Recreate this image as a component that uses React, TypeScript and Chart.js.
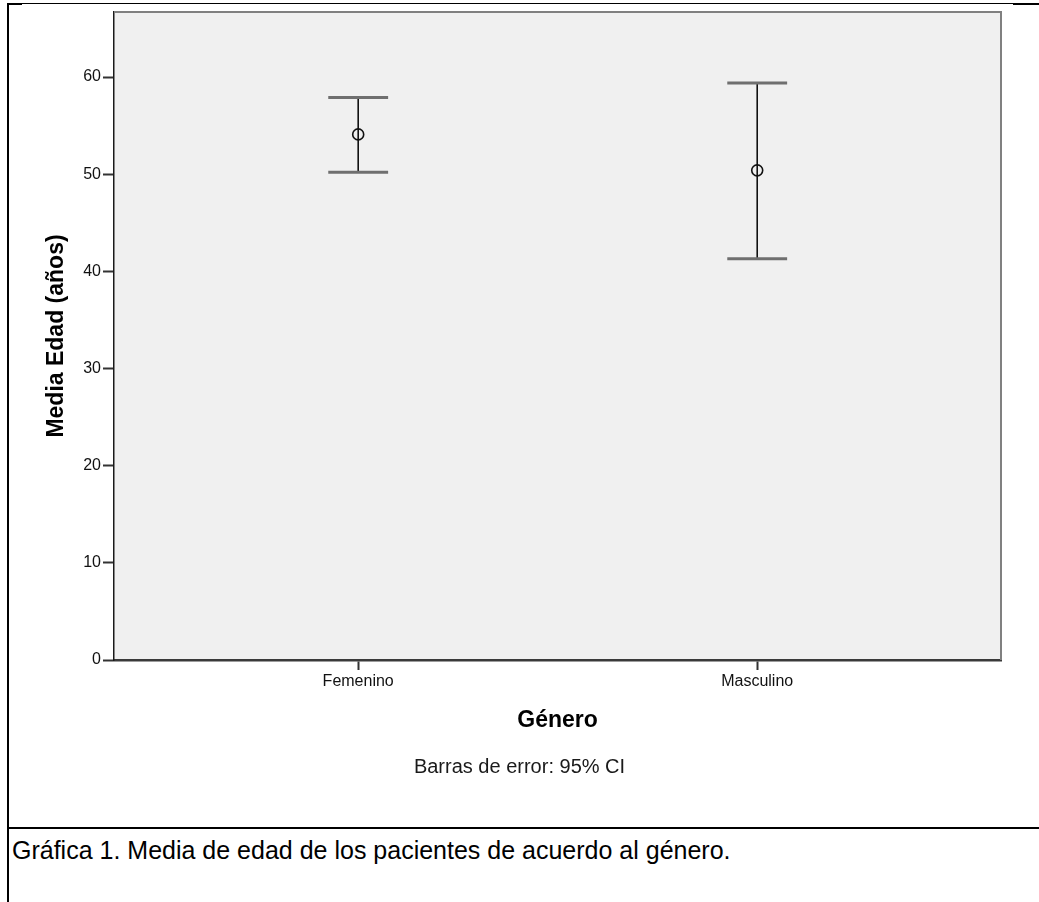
import React, { useEffect, useRef } from "react";
import { Chart, registerables } from "chart.js";

Chart.register(...registerables);

const categories = ["Femenino", "Masculino"];
const categoryPositions = [0, 1];
const means = [54.1, 50.4];
const lowerCI = [50.2, 41.3];
const upperCI = [57.9, 59.4];
const yTicks = [0, 10, 20, 30, 40, 50, 60];

const FONT = "'Liberation Sans', Arial, Helvetica, sans-serif";
const CAP_HALF = 0.075;

const plotFramePlugin = {
  id: "plotFrame",
  beforeDraw(chart: any) {
    const { ctx, chartArea: a } = chart;
    ctx.save();
    ctx.fillStyle = "#f0f0f0";
    ctx.fillRect(a.left, a.top, a.right - a.left, a.bottom - a.top);
    ctx.restore();
  },
  afterDraw(chart: any) {
    const { ctx, chartArea: a } = chart;
    ctx.save();
    ctx.strokeStyle = "#808080";
    ctx.lineWidth = 2;
    ctx.beginPath();
    ctx.moveTo(a.left, a.top);
    ctx.lineTo(a.right, a.top);
    ctx.lineTo(a.right, a.bottom);
    ctx.stroke();
    ctx.restore();
  },
};

const errorBarPlugin = {
  id: "errorBars",
  beforeDatasetsDraw(chart: any) {
    const { ctx } = chart;
    const x = chart.scales.x;
    const y = chart.scales.y;
    ctx.save();
    categoryPositions.forEach((pos, i) => {
      const px = x.getPixelForValue(pos);
      const l = x.getPixelForValue(pos - CAP_HALF);
      const r = x.getPixelForValue(pos + CAP_HALF);
      const top = y.getPixelForValue(upperCI[i]);
      const bot = y.getPixelForValue(lowerCI[i]);
      ctx.strokeStyle = "#111";
      ctx.lineWidth = 1.6;
      ctx.beginPath();
      ctx.moveTo(px, top);
      ctx.lineTo(px, bot);
      ctx.stroke();
      ctx.strokeStyle = "#6f6f6f";
      ctx.lineWidth = 3;
      ctx.beginPath();
      ctx.moveTo(l, top);
      ctx.lineTo(r, top);
      ctx.moveTo(l, bot);
      ctx.lineTo(r, bot);
      ctx.stroke();
    });
    ctx.restore();
  },
};

export default function App() {
  const canvasRef = useRef<HTMLCanvasElement | null>(null);

  useEffect(() => {
    if (!canvasRef.current) return;
    const chart = new Chart(canvasRef.current, {
      type: "scatter",
      data: {
        datasets: [
          {
            data: categoryPositions.map((p, i) => ({ x: p, y: means[i] })),
            pointStyle: "circle",
            pointRadius: 5.5,
            pointHoverRadius: 5.5,
            pointBorderWidth: 1.6,
            borderColor: "#111",
            backgroundColor: "rgba(0,0,0,0)",
          },
        ],
      },
      options: {
        responsive: false,
        animation: false,
        events: [],
        layout: { padding: { left: 0, top: 12, right: 0, bottom: 48 } },
        plugins: {
          legend: { display: false },
          tooltip: { enabled: false },
          title: { display: false },
          subtitle: {
            display: true,
            text: "Barras de error: 95% CI",
            position: "bottom",
            color: "#1a1a1a",
            font: { family: FONT, size: 20, weight: "normal" },
            padding: { top: 20.2, bottom: 0 },
          },
        },
        scales: {
          x: {
            type: "linear",
            position: "bottom",
            min: -0.612,
            max: 1.611,
            afterBuildTicks: (s: any) => {
              s.ticks = categoryPositions.map((v) => ({ value: v }));
            },
            afterFit: (s: any) => {
              s.height = 74.8;
            },
            ticks: {
              callback: (v: any) => {
                const idx = categoryPositions.indexOf(Number(v));
                return idx >= 0 ? categories[idx] : "";
              },
              font: { family: FONT, size: 16 },
              color: "#111",
              padding: 2,
              maxRotation: 0,
              autoSkip: false,
            },
            grid: {
              drawOnChartArea: false,
              drawTicks: true,
              tickLength: 10,
              tickColor: "#333",
              tickWidth: 2,
            },
            border: { display: true, color: "#3a3a3a", width: 2.5 },
            title: {
              display: true,
              text: "Género",
              font: { family: FONT, size: 23, weight: "bold" },
              color: "#000",
              padding: { top: 0, bottom: 0 },
            },
          },
          y: {
            type: "linear",
            position: "left",
            min: 0,
            max: 66.7,
            afterBuildTicks: (s: any) => {
              s.ticks = yTicks.map((v) => ({ value: v }));
            },
            afterFit: (s: any) => {
              s.width = 114;
            },
            ticks: {
              font: { family: FONT, size: 16 },
              color: "#111",
              padding: 2,
            },
            grid: {
              drawOnChartArea: false,
              drawTicks: true,
              tickLength: 11,
              tickColor: "#333",
              tickWidth: 2,
            },
            border: { display: true, color: "#1a1a1a", width: 1.5 },
            title: {
              display: true,
              text: "Media Edad (años)",
              font: { family: FONT, size: 23, weight: "bold" },
              color: "#000",
              padding: { top: 43.2, bottom: 0 },
            },
          },
          y2: {
            type: "linear",
            position: "right",
            display: true,
            afterFit: (s: any) => {
              s.width = 38;
            },
            ticks: { display: false },
            grid: { display: false },
            border: { display: false },
          },
        },
      },
      plugins: [plotFramePlugin, errorBarPlugin],
    } as any);
    return () => chart.destroy();
  }, []);

  return (
    <div
      style={{
        position: "absolute",
        left: 0,
        top: 0,
        width: 1039,
        height: 902,
        background: "#fff",
        overflow: "hidden",
      }}
    >
      <canvas
        ref={canvasRef}
        width={1039}
        height={827}
        style={{ position: "absolute", left: 0, top: 0, display: "block" }}
      />
      <div style={{ position: "absolute", left: 8, top: 3, width: 1031, height: 1, background: "#000" }} />
      <div style={{ position: "absolute", left: 8, top: 3, width: 14, height: 2, background: "#000" }} />
      <div style={{ position: "absolute", left: 1013, top: 3, width: 26, height: 2, background: "#000" }} />
      <div style={{ position: "absolute", left: 7, top: 3, width: 2, height: 899, background: "#000" }} />
      <div style={{ position: "absolute", left: 7, top: 827, width: 1032, height: 2, background: "#000" }} />
      <div
        style={{
          position: "absolute",
          left: 12,
          top: 838,
          fontFamily: FONT,
          fontSize: 25,
          lineHeight: "25px",
          color: "#000",
          whiteSpace: "nowrap",
        }}
      >
        Gráfica 1. Media de edad de los pacientes de acuerdo al género.
      </div>
    </div>
  );
}
